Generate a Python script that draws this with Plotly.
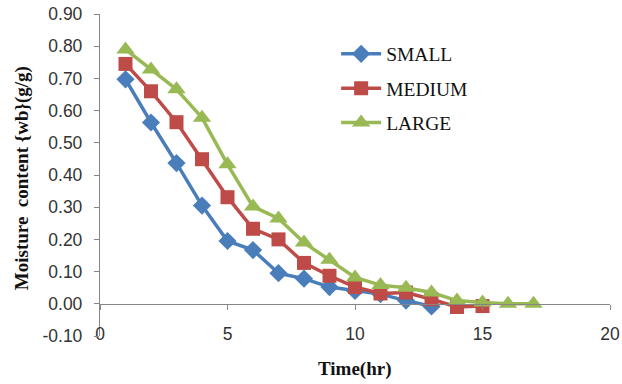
import plotly.graph_objects as go

x_small = [1, 2, 3, 4, 5, 6, 7, 8, 9, 10, 11, 12, 13]
y_small = [0.697, 0.563, 0.437, 0.305, 0.195, 0.167, 0.095, 0.078, 0.052, 0.040, 0.030, 0.010, -0.008]
x_medium = [1, 2, 3, 4, 5, 6, 7, 8, 9, 10, 11, 12, 13, 14, 15]
y_medium = [0.745, 0.660, 0.564, 0.449, 0.331, 0.233, 0.200, 0.127, 0.087, 0.052, 0.032, 0.035, 0.014, -0.010, -0.007]
x_large = [1, 2, 3, 4, 5, 6, 7, 8, 9, 10, 11, 12, 13, 14, 15, 16, 17]
y_large = [0.790, 0.728, 0.666, 0.578, 0.433, 0.302, 0.265, 0.190, 0.137, 0.082, 0.058, 0.050, 0.035, 0.010, 0.004, 0.0, 0.0]

x_ticks = [0, 5, 10, 15, 20]
y_ticks = [-0.1, 0.0, 0.1, 0.2, 0.3, 0.4, 0.5, 0.6, 0.7, 0.8, 0.9]
y_tick_text = ["-0.10", "0.00", "0.10", "0.20", "0.30", "0.40", "0.50", "0.60", "0.70", "0.80", "0.90"]

BLUE = "#4A7EBB"
RED = "#BE4B48"
GREEN = "#98B954"

fig = go.Figure()
fig.add_trace(go.Scatter(x=x_small, y=y_small, name="SMALL", mode="lines+markers", legendgroup="a",
                         line=dict(color=BLUE, width=3.5),
                         marker=dict(symbol="diamond", size=14, color=BLUE)))
fig.add_trace(go.Scatter(x=x_medium, y=y_medium, name="MEDIUM", mode="lines+markers", legendgroup="b",
                         line=dict(color=RED, width=3.5),
                         marker=dict(symbol="square", size=14, color=RED)))
fig.add_trace(go.Scatter(x=x_large, y=y_large, name="LARGE", mode="lines+markers", legendgroup="c",
                         line=dict(color=GREEN, width=3.5),
                         marker=dict(symbol="triangle-up", size=16, color=GREEN)))

tickfont = dict(family="Liberation Sans, Arial, sans-serif", size=17.5, color="#333333")
serif = "Liberation Serif, Times New Roman, serif"

fig.update_layout(
    width=622, height=384,
    margin=dict(l=100, r=12, t=14, b=47.5, autoexpand=False),
    paper_bgcolor="white", plot_bgcolor="white",
    showlegend=True,
    legend=dict(x=0.463, y=0.936, xanchor="left", yanchor="top",
                font=dict(family=serif, size=19.5, color="#111111"),
                bgcolor="rgba(0,0,0,0)", itemwidth=40, tracegroupgap=6),
    xaxis=dict(range=[0, 20], tickvals=x_ticks, ticktext=[str(v) for v in x_ticks],
               anchor="free", position=0.045, showline=False, ticks="",
               showgrid=False, zeroline=False, tickfont=tickfont, automargin=False),
    xaxis2=dict(range=[0, 20], tickvals=x_ticks, overlaying="x", matches="x",
                anchor="free", position=0.1, showline=True, linecolor="#868686",
                linewidth=1.3, ticks="outside", ticklen=5, tickcolor="#868686",
                showticklabels=False, showgrid=False, zeroline=False, automargin=False),
    yaxis=dict(range=[-0.1, 0.9], tickvals=y_ticks, ticktext=y_tick_text,
               showline=True, linecolor="#868686", linewidth=1.3,
               ticks="outside", ticklen=5, tickcolor="#868686", ticklabelstandoff=8,
               showgrid=False, zeroline=False, tickfont=tickfont, automargin=False),
    annotations=[
        dict(text="<b>Time(hr)</b>", x=0.5, y=-0.104, xref="paper", yref="paper",
             xanchor="center", yanchor="middle", showarrow=False,
             font=dict(family=serif, size=19, color="#111111")),
        dict(text="<b>Moisture  content {wb}(g/g)</b>", x=-0.153, y=0.49,
             xref="paper", yref="paper", xanchor="center", yanchor="middle",
             textangle=-90, showarrow=False,
             font=dict(family=serif, size=19, color="#111111")),
    ],
)
fig.add_trace(go.Scatter(x=[None], y=[None], xaxis="x2", showlegend=False, hoverinfo="skip"))

fig.write_html("out.html")
